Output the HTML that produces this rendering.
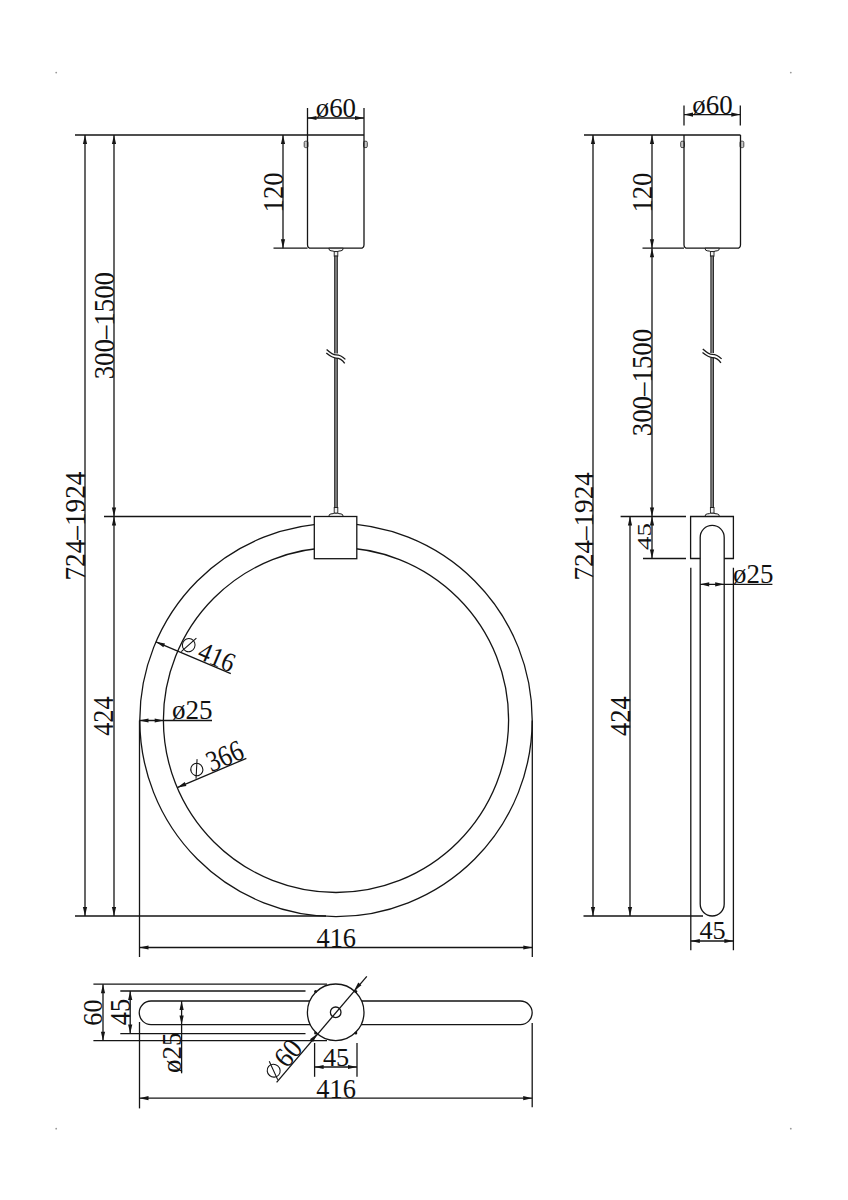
<!DOCTYPE html>
<html><head><meta charset="utf-8"><style>
html,body{margin:0;padding:0;background:#fff;}
svg{display:block;}
text{font-family:"Liberation Serif",serif;}
</style></head><body>
<svg width="848" height="1200" viewBox="0 0 848 1200">
<line x1="75.00" y1="135.00" x2="364.00" y2="135.00" stroke="#151515" stroke-width="1.3"/>
<line x1="85.00" y1="135.00" x2="85.00" y2="916.00" stroke="#151515" stroke-width="1.3"/>
<path d="M85.00 135.00L87.10 144.00L82.90 144.00Z" fill="#151515"/>
<path d="M85.00 916.00L82.90 907.00L87.10 907.00Z" fill="#151515"/>
<line x1="114.00" y1="135.00" x2="114.00" y2="516.50" stroke="#151515" stroke-width="1.3"/>
<path d="M114.00 135.00L116.10 144.00L111.90 144.00Z" fill="#151515"/>
<path d="M114.00 516.50L111.90 507.50L116.10 507.50Z" fill="#151515"/>
<line x1="114.00" y1="516.50" x2="114.00" y2="916.00" stroke="#151515" stroke-width="1.3"/>
<path d="M114.00 516.50L116.10 525.50L111.90 525.50Z" fill="#151515"/>
<path d="M114.00 916.00L111.90 907.00L116.10 907.00Z" fill="#151515"/>
<line x1="104.00" y1="516.50" x2="311.00" y2="516.50" stroke="#151515" stroke-width="1.3"/>
<line x1="75.00" y1="916.00" x2="326.00" y2="916.00" stroke="#151515" stroke-width="1.3"/>
<line x1="139.50" y1="720.50" x2="139.50" y2="957.00" stroke="#151515" stroke-width="1.3"/>
<line x1="532.30" y1="720.50" x2="532.30" y2="957.00" stroke="#151515" stroke-width="1.3"/>
<line x1="139.50" y1="947.50" x2="532.30" y2="947.50" stroke="#151515" stroke-width="1.3"/>
<path d="M139.50 947.50L148.50 945.40L148.50 949.60Z" fill="#151515"/>
<path d="M532.30 947.50L523.30 949.60L523.30 945.40Z" fill="#151515"/>
<text transform="translate(316.47,947.00) scale(0.9475,1)" font-size="27.88" fill="#111">416</text>
<ellipse cx="336" cy="720.0" rx="196.2" ry="196.6" fill="none" stroke="#151515" stroke-width="1.3"/>
<ellipse cx="336" cy="720.0" rx="172.6" ry="172.5" fill="none" stroke="#151515" stroke-width="1.3"/>
<line x1="307.50" y1="108.00" x2="307.50" y2="135.00" stroke="#151515" stroke-width="1.3"/>
<line x1="364.00" y1="108.00" x2="364.00" y2="135.00" stroke="#151515" stroke-width="1.3"/>
<line x1="307.50" y1="118.00" x2="364.00" y2="118.00" stroke="#151515" stroke-width="1.3"/>
<path d="M307.50 118.00L316.50 115.90L316.50 120.10Z" fill="#151515"/>
<path d="M364.00 118.00L355.00 120.10L355.00 115.90Z" fill="#151515"/>
<text transform="translate(315.72,116.80) scale(0.9702,1)" font-size="27.73" fill="#111">ø60</text>
<line x1="283.00" y1="135.00" x2="283.00" y2="248.20" stroke="#151515" stroke-width="1.3"/>
<path d="M283.00 135.00L285.10 144.00L280.90 144.00Z" fill="#151515"/>
<path d="M283.00 248.20L280.90 239.20L285.10 239.20Z" fill="#151515"/>
<text transform="translate(283.00,212.40) rotate(-90) scale(0.9255,1)" font-size="28.79" fill="#111">120</text>
<line x1="273.50" y1="248.20" x2="307.50" y2="248.20" stroke="#151515" stroke-width="1.3"/>
<rect x="304.20" y="141.2" width="3.8" height="6.4" rx="1.3" fill="#c8c8c8" stroke="#3a3a3a" stroke-width="0.9"/>
<rect x="363.50" y="141.2" width="3.8" height="6.4" rx="1.3" fill="#c8c8c8" stroke="#3a3a3a" stroke-width="0.9"/>
<path d="M307.5 135V244.7Q307.5 248.2 311.0 248.2H360.5Q364 248.2 364 244.7V135" fill="none" stroke="#151515" stroke-width="1.3"/>
<path d="M328.8 248.2H343.2Q343 250.79999999999998 341 250.79999999999998Q338.2 251.0 337.8 251.6H334.2Q333.8 251.0 331 250.79999999999998Q329 250.79999999999998 328.8 248.2Z" fill="#f4f4f4" stroke="#1a1a1a" stroke-width="1.0"/>
<rect x="334.2" y="251.6" width="3.6" height="4.6" fill="#f0f0f0" stroke="#1a1a1a" stroke-width="0.9"/>
<rect x="334.65" y="256" width="2.7" height="252" fill="#808080" stroke="#1e1e1e" stroke-width="0.9"/>
<path d="M333 353.5H339V358.1H333Z" fill="#fff"/>
<path d="M326.60 349.50C331.00 353.50 333.00 354.90 336.00 354.90C340.00 354.90 342.00 355.90 345.40 359.40" fill="none" stroke="#1a1a1a" stroke-width="1.35"/>
<path d="M326.30 353.10C331.00 356.90 333.00 358.10 336.00 358.10C340.00 358.10 342.00 359.50 344.70 363.30" fill="none" stroke="#1a1a1a" stroke-width="1.35"/>
<rect x="334.2" y="507.5" width="3.6" height="5.8" fill="#f0f0f0" stroke="#1a1a1a" stroke-width="0.9"/>
<path d="M328.8 516.5H343.2Q343 513.9 341 513.9Q338.2 513.7 337.8 513.2H334.2Q333.8 513.7 331 513.9Q329 513.9 328.8 516.5Z" fill="#f4f4f4" stroke="#1a1a1a" stroke-width="1.0"/>
<rect x="314.3" y="516.5" width="42.5" height="42.2" fill="#fff" stroke="#151515" stroke-width="1.3"/>
<text transform="translate(113.60,379.34) rotate(-90) scale(0.9231,1)" font-size="29.09" fill="#111">300–1500</text>
<text transform="translate(85.00,580.61) rotate(-90) scale(0.9332,1)" font-size="29.24" fill="#111">724–1924</text>
<text transform="translate(113.40,735.82) rotate(-90) scale(0.9209,1)" font-size="28.48" fill="#111">424</text>
<line x1="155.90" y1="641.80" x2="230.80" y2="673.70" stroke="#151515" stroke-width="1.3"/>
<path d="M155.90 641.80L165.00 643.39L163.36 647.26Z" fill="#151515"/>
<g transform="translate(155.90,641.80) rotate(23.07)"><ellipse cx="31.50" cy="-9.80" rx="6.30" ry="6.60" fill="none" stroke="#111" stroke-width="1.05"/><line x1="27.20" y1="-0.80" x2="35.80" y2="-19.30" stroke="#111" stroke-width="1.05"/><text transform="translate(43.50,-0.80) scale(0.9103,1)" font-size="27.27" fill="#111">416</text></g>
<line x1="139.50" y1="720.50" x2="212.00" y2="720.50" stroke="#151515" stroke-width="1.3"/>
<path d="M139.50 720.50L148.50 718.40L148.50 722.60Z" fill="#151515"/>
<path d="M163.70 720.50L154.70 722.60L154.70 718.40Z" fill="#151515"/>
<text transform="translate(171.92,718.90) scale(1.0084,1)" font-size="26.82" fill="#111">ø25</text>
<line x1="177.28" y1="787.55" x2="246.37" y2="758.36" stroke="#151515" stroke-width="1.3"/>
<path d="M177.28 787.55L184.75 782.11L186.39 785.98Z" fill="#151515"/>
<g transform="translate(177.28,787.55) rotate(-22.90)"><ellipse cx="25.00" cy="-9.00" rx="6.00" ry="6.30" fill="none" stroke="#111" stroke-width="1.05"/><line x1="20.70" y1="-0.80" x2="29.30" y2="-18.50" stroke="#111" stroke-width="1.05"/><text transform="translate(37.25,-0.80) scale(0.8462,1)" font-size="29.55" fill="#111">366</text></g>
<line x1="584.00" y1="135.00" x2="740.50" y2="135.00" stroke="#151515" stroke-width="1.3"/>
<line x1="593.00" y1="135.00" x2="593.00" y2="916.00" stroke="#151515" stroke-width="1.3"/>
<path d="M593.00 135.00L595.10 144.00L590.90 144.00Z" fill="#151515"/>
<path d="M593.00 916.00L590.90 907.00L595.10 907.00Z" fill="#151515"/>
<line x1="652.00" y1="135.00" x2="652.00" y2="248.20" stroke="#151515" stroke-width="1.3"/>
<path d="M652.00 135.00L654.10 144.00L649.90 144.00Z" fill="#151515"/>
<path d="M652.00 248.20L649.90 239.20L654.10 239.20Z" fill="#151515"/>
<line x1="652.00" y1="248.20" x2="652.00" y2="516.50" stroke="#151515" stroke-width="1.3"/>
<path d="M652.00 248.20L654.10 257.20L649.90 257.20Z" fill="#151515"/>
<path d="M652.00 516.50L649.90 507.50L654.10 507.50Z" fill="#151515"/>
<line x1="652.00" y1="516.50" x2="652.00" y2="558.50" stroke="#151515" stroke-width="1.3"/>
<path d="M652.00 516.50L654.10 525.50L649.90 525.50Z" fill="#151515"/>
<path d="M652.00 558.50L649.90 549.50L654.10 549.50Z" fill="#151515"/>
<line x1="630.00" y1="516.50" x2="630.00" y2="916.00" stroke="#151515" stroke-width="1.3"/>
<path d="M630.00 516.50L632.10 525.50L627.90 525.50Z" fill="#151515"/>
<path d="M630.00 916.00L627.90 907.00L632.10 907.00Z" fill="#151515"/>
<line x1="642.50" y1="248.20" x2="684.00" y2="248.20" stroke="#151515" stroke-width="1.3"/>
<line x1="620.60" y1="516.50" x2="686.00" y2="516.50" stroke="#151515" stroke-width="1.3"/>
<line x1="643.00" y1="558.50" x2="686.00" y2="558.50" stroke="#151515" stroke-width="1.3"/>
<line x1="583.50" y1="916.00" x2="703.00" y2="916.00" stroke="#151515" stroke-width="1.3"/>
<line x1="684.00" y1="105.40" x2="684.00" y2="125.60" stroke="#151515" stroke-width="1.3"/>
<line x1="740.30" y1="105.40" x2="740.30" y2="125.60" stroke="#151515" stroke-width="1.3"/>
<line x1="684.00" y1="114.60" x2="740.30" y2="114.60" stroke="#151515" stroke-width="1.3"/>
<path d="M684.00 114.60L693.00 112.50L693.00 116.70Z" fill="#151515"/>
<path d="M740.30 114.60L731.30 116.70L731.30 112.50Z" fill="#151515"/>
<text transform="translate(692.32,113.60) scale(0.9702,1)" font-size="27.73" fill="#111">ø60</text>
<rect x="680.70" y="141.2" width="3.8" height="6.4" rx="1.3" fill="#c8c8c8" stroke="#3a3a3a" stroke-width="0.9"/>
<rect x="740.00" y="141.2" width="3.8" height="6.4" rx="1.3" fill="#c8c8c8" stroke="#3a3a3a" stroke-width="0.9"/>
<path d="M684 135V244.7Q684 248.2 687.5 248.2H737.0Q740.5 248.2 740.5 244.7V135" fill="none" stroke="#151515" stroke-width="1.3"/>
<path d="M705.0 248.2H719.4000000000001Q719.2 250.79999999999998 717.2 250.79999999999998Q714.4000000000001 251.0 714.0 251.6H710.4000000000001Q710.0 251.0 707.2 250.79999999999998Q705.2 250.79999999999998 705.0 248.2Z" fill="#f4f4f4" stroke="#1a1a1a" stroke-width="1.0"/>
<rect x="710.4000000000001" y="251.6" width="3.6" height="4.6" fill="#f0f0f0" stroke="#1a1a1a" stroke-width="0.9"/>
<rect x="710.85" y="256" width="2.7" height="251.5" fill="#808080" stroke="#1e1e1e" stroke-width="0.9"/>
<path d="M709.2 353H715.2V357.6H709.2Z" fill="#fff"/>
<path d="M702.80 349.00C707.20 353.00 709.20 354.40 712.20 354.40C716.20 354.40 718.20 355.40 721.60 358.90" fill="none" stroke="#1a1a1a" stroke-width="1.35"/>
<path d="M702.50 352.60C707.20 356.40 709.20 357.60 712.20 357.60C716.20 357.60 718.20 359.00 720.90 362.80" fill="none" stroke="#1a1a1a" stroke-width="1.35"/>
<rect x="710.4000000000001" y="507.5" width="3.6" height="5.8" fill="#f0f0f0" stroke="#1a1a1a" stroke-width="0.9"/>
<path d="M705.0 516.5H719.4000000000001Q719.2 513.9 717.2 513.9Q714.4000000000001 513.7 714.0 513.2H710.4000000000001Q710.0 513.7 707.2 513.9Q705.2 513.9 705.0 516.5Z" fill="#f4f4f4" stroke="#1a1a1a" stroke-width="1.0"/>
<path d="M700.2 558.5H690.6V516.5H733.4V558.5H724.2" fill="#fff" stroke="#151515" stroke-width="1.3"/>
<path d="M700.2 904V537.4A12 12 0 0 1 724.2 537.4V904A12 12 0 0 1 700.2 904" fill="none" stroke="#151515" stroke-width="1.3"/>
<line x1="690.80" y1="567.80" x2="690.80" y2="950.30" stroke="#151515" stroke-width="1.3"/>
<line x1="733.40" y1="567.80" x2="733.40" y2="950.30" stroke="#151515" stroke-width="1.3"/>
<line x1="690.80" y1="941.00" x2="733.40" y2="941.00" stroke="#151515" stroke-width="1.3"/>
<path d="M690.80 941.00L699.80 938.90L699.80 943.10Z" fill="#151515"/>
<path d="M733.40 941.00L724.40 943.10L724.40 938.90Z" fill="#151515"/>
<text transform="translate(699.47,939.20) scale(1.0083,1)" font-size="26.06" fill="#111">45</text>
<line x1="700.20" y1="584.30" x2="772.40" y2="584.30" stroke="#151515" stroke-width="1.3"/>
<path d="M700.20 584.30L709.20 582.20L709.20 586.40Z" fill="#151515"/>
<path d="M724.20 584.30L715.20 586.40L715.20 582.20Z" fill="#151515"/>
<text transform="translate(733.12,583.20) scale(0.9975,1)" font-size="26.97" fill="#111">ø25</text>
<text transform="translate(652.00,212.60) rotate(-90) scale(0.9280,1)" font-size="28.79" fill="#111">120</text>
<text transform="translate(651.60,436.24) rotate(-90) scale(0.9437,1)" font-size="28.48" fill="#111">300–1500</text>
<text transform="translate(650.50,549.94) rotate(-90) scale(1.3825,1)" font-size="19.55" fill="#111">45</text>
<text transform="translate(592.60,580.60) rotate(-90) scale(0.9620,1)" font-size="28.18" fill="#111">724–1924</text>
<text transform="translate(630.00,736.03) rotate(-90) scale(0.9112,1)" font-size="29.09" fill="#111">424</text>
<line x1="93.40" y1="984.20" x2="327.00" y2="984.20" stroke="#151515" stroke-width="1.3"/>
<line x1="120.30" y1="991.00" x2="305.50" y2="991.00" stroke="#151515" stroke-width="1.3"/>
<line x1="120.30" y1="1033.60" x2="305.50" y2="1033.60" stroke="#151515" stroke-width="1.3"/>
<line x1="93.40" y1="1040.70" x2="327.00" y2="1040.70" stroke="#151515" stroke-width="1.3"/>
<path d="M151 1001H520.4A11.8 11.8 0 0 1 520.4 1024.6H151A11.8 11.8 0 0 1 151 1001Z" fill="none" stroke="#151515" stroke-width="1.3"/>
<line x1="103.00" y1="984.20" x2="103.00" y2="1040.70" stroke="#151515" stroke-width="1.3"/>
<path d="M103.00 984.20L105.10 993.20L100.90 993.20Z" fill="#151515"/>
<path d="M103.00 1040.70L100.90 1031.70L105.10 1031.70Z" fill="#151515"/>
<line x1="130.20" y1="991.00" x2="130.20" y2="1033.60" stroke="#151515" stroke-width="1.3"/>
<path d="M130.20 991.00L132.30 1000.00L128.10 1000.00Z" fill="#151515"/>
<path d="M130.20 1033.60L128.10 1024.60L132.30 1024.60Z" fill="#151515"/>
<line x1="181.60" y1="1001.00" x2="181.60" y2="1073.30" stroke="#151515" stroke-width="1.3"/>
<path d="M181.60 1001.00L183.70 1010.00L179.50 1010.00Z" fill="#151515"/>
<path d="M181.60 1024.60L179.50 1015.60L183.70 1015.60Z" fill="#151515"/>
<text transform="translate(102.30,1025.65) rotate(-90) scale(0.9552,1)" font-size="27.42" fill="#111">60</text>
<text transform="translate(129.50,1025.13) rotate(-90) scale(0.9117,1)" font-size="28.94" fill="#111">45</text>
<text transform="translate(180.50,1073.08) rotate(-90) scale(0.9753,1)" font-size="27.73" fill="#111">ø25</text>
<circle cx="335.7" cy="1012.3" r="28.3" fill="#fff" stroke="#151515" stroke-width="1.3"/>
<circle cx="335.7" cy="1012.3" r="5.3" fill="none" stroke="#151515" stroke-width="1.3"/>
<circle cx="315.6" cy="991.6" r="1.5" fill="#151515"/>
<circle cx="355.8" cy="991.6" r="1.5" fill="#151515"/>
<circle cx="315.6" cy="1033" r="1.5" fill="#151515"/>
<circle cx="355.8" cy="1033" r="1.5" fill="#151515"/>
<line x1="366.80" y1="976.30" x2="276.60" y2="1082.40" stroke="#151515" stroke-width="1.3"/>
<path d="M354.03 990.74L358.26 982.52L361.46 985.24Z" fill="#151515"/>
<path d="M317.37 1033.86L313.14 1042.08L309.94 1039.36Z" fill="#151515"/>
<g transform="translate(276.60,1082.40) rotate(-49.60)"><ellipse cx="7.00" cy="-9.80" rx="6.30" ry="6.60" fill="none" stroke="#111" stroke-width="1.05"/><line x1="2.70" y1="-0.80" x2="11.30" y2="-19.30" stroke="#111" stroke-width="1.05"/><text transform="translate(16.43,-0.80) scale(0.9251,1)" font-size="28.79" fill="#111">60</text></g>
<line x1="314.60" y1="1043.00" x2="314.60" y2="1076.80" stroke="#151515" stroke-width="1.3"/>
<line x1="357.00" y1="1043.00" x2="357.00" y2="1076.80" stroke="#151515" stroke-width="1.3"/>
<line x1="314.60" y1="1067.00" x2="357.00" y2="1067.00" stroke="#151515" stroke-width="1.3"/>
<path d="M314.60 1067.00L323.60 1064.90L323.60 1069.10Z" fill="#151515"/>
<path d="M357.00 1067.00L348.00 1069.10L348.00 1064.90Z" fill="#151515"/>
<text transform="translate(322.97,1065.50) scale(1.0202,1)" font-size="25.76" fill="#111">45</text>
<line x1="139.50" y1="1022.00" x2="139.50" y2="1108.40" stroke="#151515" stroke-width="1.3"/>
<line x1="532.20" y1="1023.00" x2="532.20" y2="1107.30" stroke="#151515" stroke-width="1.3"/>
<line x1="139.50" y1="1098.20" x2="532.20" y2="1098.20" stroke="#151515" stroke-width="1.3"/>
<path d="M139.50 1098.20L148.50 1096.10L148.50 1100.30Z" fill="#151515"/>
<path d="M532.20 1098.20L523.20 1100.30L523.20 1096.10Z" fill="#151515"/>
<text transform="translate(316.37,1097.50) scale(0.9794,1)" font-size="26.97" fill="#111">416</text>
<circle cx="56.2" cy="72.6" r="0.9" fill="#999"/>
<circle cx="790.8" cy="72.6" r="0.9" fill="#999"/>
<circle cx="56.2" cy="1128.7" r="0.9" fill="#999"/>
<circle cx="790.8" cy="1128.7" r="0.9" fill="#999"/>
</svg></body></html>
